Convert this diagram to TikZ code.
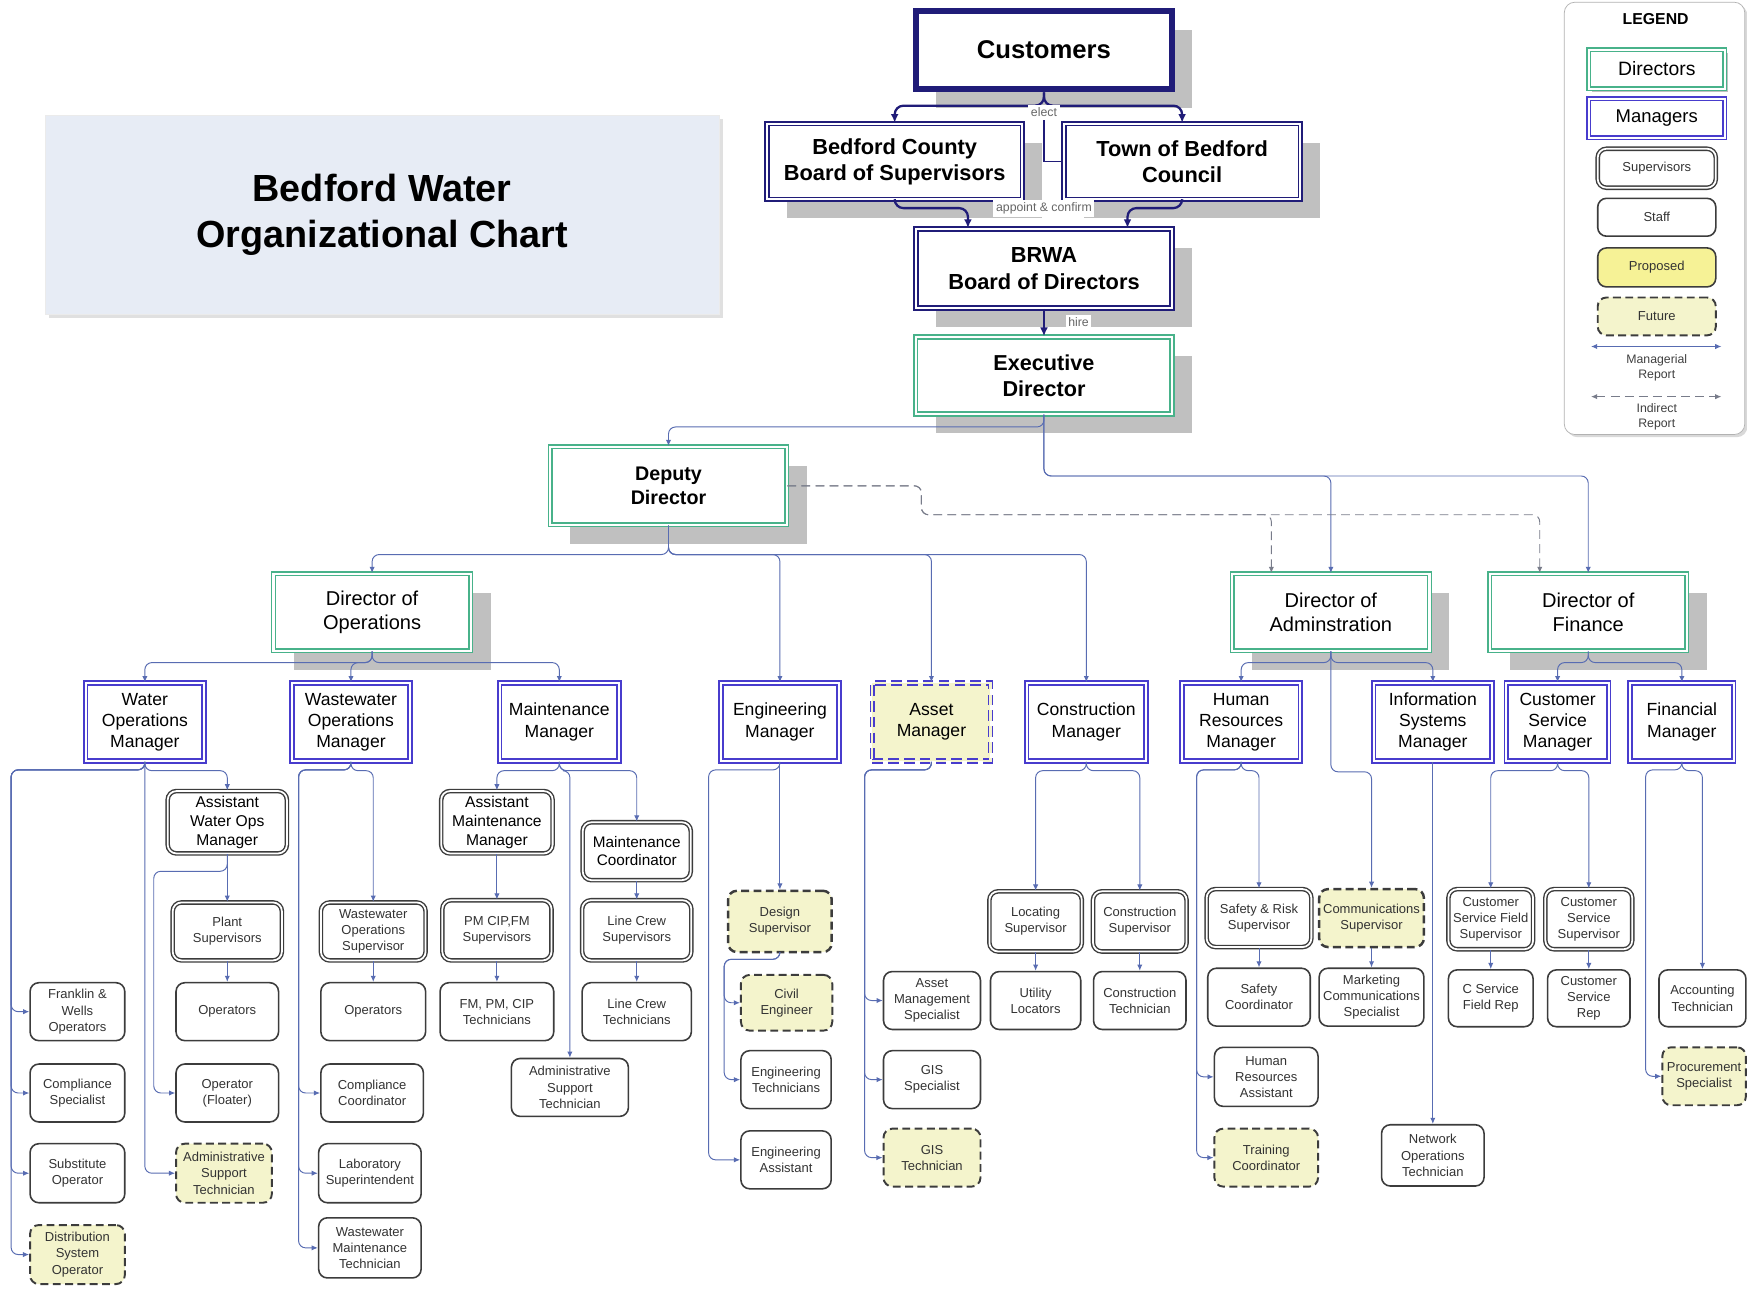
\documentclass[tikz,border=0pt]{standalone}
\usepackage{fontspec}
\setmainfont{Liberation Sans}
\usetikzlibrary{arrows.meta,calc,shadows}
\definecolor{bwnavy}{RGB}{32,28,120}
\definecolor{bwgreen}{RGB}{72,178,138}
\definecolor{bwblue}{RGB}{72,60,205}
\definecolor{bwlink}{RGB}{88,108,178}
\definecolor{bwgrey}{RGB}{60,60,60}
\definecolor{bwprop}{RGB}{246,242,150}
\definecolor{bwfut}{RGB}{244,244,204}
\definecolor{bwtitle}{RGB}{231,236,245}
\definecolor{bwshade}{RGB}{192,192,192}
\newcommand{\pxu}{0.022283cm}

\begin{document}
\begin{tikzpicture}[x=\pxu,y=-\pxu,every node/.style={align=center,inner sep=1pt},
  sz/.style 2 args={minimum width=#1*\pxu,minimum height=#2*\pxu},
  castshadow/.style={drop shadow={shadow xshift=.4cm,shadow yshift=-.38cm,fill=bwshade,opacity=1}},
  topbox/.style={draw=bwnavy,double=white,double distance=1.1pt,line width=1pt,fill=white,castshadow,font=\bfseries\fontsize{12.4}{15}\selectfont},
  dirbox/.style={draw=bwgreen,double=white,double distance=1.2pt,line width=.9pt,fill=white,castshadow,font=\fontsize{11.4}{13.5}\selectfont},
  mgrbox/.style={draw=bwblue,double=white,double distance=1.2pt,line width=.9pt,fill=white,font=\fontsize{10}{12}\selectfont},
  supbox/.style={draw=bwgrey,double=white,double distance=1pt,line width=.8pt,rounded corners=5pt,fill=white,font=\fontsize{7.4}{9.2}\selectfont,text=black!80},
  staffbox/.style={draw=bwgrey,line width=.9pt,rounded corners=5pt,fill=white,font=\fontsize{7.4}{9.2}\selectfont,text=black!80},
  futbox/.style={staffbox,fill=bwfut,dash pattern=on 4.5pt off 2.5pt,line width=1.1pt},
  lbl/.style={fill=white,font=\fontsize{7}{8}\selectfont,text=black!60,inner sep=1.5pt},
  link/.style={draw=bwlink,line width=.55pt,rounded corners=4pt,-{Latex[length=3.5pt,width=3pt]}},
  toplink/.style={draw=bwnavy,line width=1.3pt,rounded corners=5pt,-{Latex[length=5pt,width=4.5pt]}},
  indirect/.style={link,draw=gray!80!bwlink,dash pattern=on 5pt off 3pt}]
  \path[use as bounding box,fill=white] (0,0) rectangle (1568,1161);

  % title and legend
  \node[fill=bwtitle,draw=black!8,sz={605}{179},font=\bfseries\fontsize{21.5}{26}\selectfont,drop shadow={shadow xshift=2pt,shadow yshift=-2pt,fill=black!12,opacity=1}] (title) at (343,193) {Bedford Water\\Organizational Chart};
  \node[draw=black!30,rounded corners=6pt,fill=white,sz={162}{388},drop shadow={shadow xshift=1.5pt,shadow yshift=-1.5pt,fill=black!15,opacity=1}] (legend) at (1485,196) {};
  \node[font=\bfseries\fontsize{9}{11}\selectfont] (lgtitle) at (1486,17) {LEGEND};
  \node[draw=bwgreen,double=white,double distance=1.2pt,line width=.9pt,fill=white,sz={122}{35},font=\fontsize{11}{13}\selectfont,drop shadow={shadow xshift=2pt,shadow yshift=-2pt,fill=bwshade,opacity=1}] (lgdir) at (1487,62) {Directors};
  \node[mgrbox,sz={122}{35},font=\fontsize{10.5}{12}\selectfont] (lgmgr) at (1487,106) {Managers};
  \node[supbox,sz={106}{35}] (lgsup) at (1487,151) {Supervisors};
  \node[staffbox,sz={106}{34}] (lgstaff) at (1487,195) {Staff};
  \node[staffbox,fill=bwprop,sz={106}{35}] (lgprop) at (1487,240) {Proposed};
  \node[futbox,sz={106}{34}] (lgfut) at (1487,284) {Future};
  \coordinate (mra) at (1428,311);
  \coordinate (mrb) at (1545,311);
  \draw[link,{Latex[length=3.5pt,width=3pt]}-{Latex[length=3.5pt,width=3pt]}] (mra) -- (mrb);
  \node[font=\fontsize{7}{8.4}\selectfont,text=black!75] (lgmr) at (1487,330) {Managerial\\Report};
  \coordinate (ira) at (1428,356);
  \coordinate (irb) at (1545,356);
  \draw[indirect,{Latex[length=3.5pt,width=3pt]}-{Latex[length=3.5pt,width=3pt]}] (ira) -- (irb);
  \node[font=\fontsize{7}{8.4}\selectfont,text=black!75] (lgir) at (1487,374) {Indirect\\Report};

  % board and directors
  \node[draw=bwnavy,line width=3.6pt,fill=white,sz={230}{70},castshadow,font=\bfseries\fontsize{14.6}{17}\selectfont] (cust) at (937,45) {Customers};
  \node[topbox,sz={229}{68}] (county) at (803,145) {Bedford County\\Board of Supervisors};
  \node[topbox,sz={212}{68}] (town) at (1061,145) {Town of Bedford\\Council};
  \node[topbox,sz={230}{71}] (brwa) at (937,241) {BRWA\\Board of Directors};
  \node[dirbox,sz={230}{69},font=\bfseries\fontsize{12.3}{15}\selectfont] (exec) at (937,337) {Executive\\Director};
  \node[dirbox,sz={212}{70},font=\bfseries\fontsize{11.2}{13.5}\selectfont] (deputy) at (600,436) {Deputy\\Director};
  \node[dirbox,sz={177}{69}] (dirops) at (334,549.5) {Director of\\Operations};
  \node[dirbox,sz={177}{69}] (diradm) at (1194.5,549.5) {Director of\\Adminstration};
  \node[dirbox,sz={177}{69}] (dirfin) at (1425.5,549.5) {Director of\\Finance};

  % managers
  \node[mgrbox,sz={106}{70}] (wom) at (130,648) {Water\\Operations\\Manager};
  \node[mgrbox,sz={106}{70}] (wwm) at (315,648) {Wastewater\\Operations\\Manager};
  \node[mgrbox,sz={107}{70}] (mntm) at (502,648) {Maintenance\\Manager};
  \node[mgrbox,sz={106}{70}] (engm) at (700,648) {Engineering\\Manager};
  \node[mgrbox,sz={106}{70},fill=bwfut,double=bwfut,dash pattern=on 6pt off 3pt] (astm) at (836,648) {Asset\\Manager};
  \node[mgrbox,sz={107}{70}] (conm) at (975,648) {Construction\\Manager};
  \node[mgrbox,sz={106}{70}] (hrm) at (1114,648) {Human\\Resources\\Manager};
  \node[mgrbox,sz={106}{70}] (ism) at (1286,648) {Information\\Systems\\Manager};
  \node[mgrbox,sz={92}{70}] (csm) at (1398,648) {Customer\\Service\\Manager};
  \node[mgrbox,sz={93}{70}] (finm) at (1509.5,648) {Financial\\Manager};

  % supervisors
  \node[supbox,sz={107}{56},font=\fontsize{8.9}{10.7}\selectfont,text=black] (awom) at (204,738) {Assistant\\Water Ops\\Manager};
  \node[supbox,sz={100}{56},font=\fontsize{8.9}{10.7}\selectfont,text=black] (amm) at (446,738) {Assistant\\Maintenance\\Manager};
  \node[supbox,sz={97}{52},font=\fontsize{8.7}{10.5}\selectfont,text=black] (mcoord) at (571.5,764) {Maintenance\\Coordinator};
  \node[supbox,sz={98}{52}] (plsup) at (204,836) {Plant\\Supervisors};
  \node[supbox,sz={94}{52}] (wwsup) at (335,836) {Wastewater\\Operations\\Supervisor};
  \node[supbox,sz={98}{54}] (pmsup) at (446,835) {PM CIP,FM\\Supervisors};
  \node[supbox,sz={98}{54}] (lcsup) at (571.5,835) {Line Crew\\Supervisors};
  \node[futbox,sz={93}{55},line width=1.4pt] (dessup) at (700,827) {Design\\Supervisor};
  \node[supbox,sz={83}{54}] (locsup) at (929.5,827) {Locating\\Supervisor};
  \node[supbox,sz={84}{54}] (consup) at (1023,827) {Construction\\Supervisor};
  \node[supbox,sz={94}{52}] (safsup) at (1130,824) {Safety \& Risk\\Supervisor};
  \node[futbox,sz={94}{52},line width=1.4pt] (comsup) at (1231,824) {Communications\\Supervisor};
  \node[supbox,sz={76}{54}] (csfsup) at (1338,825) {Customer\\Service Field\\Supervisor};
  \node[supbox,sz={78}{54}] (cssup) at (1426,825) {Customer\\Service\\Supervisor};

  % staff
  \node[staffbox,sz={85}{52}] (fwop) at (69.5,908) {Franklin \&\\Wells\\Operators};
  \node[staffbox,sz={92}{52}] (wop) at (204,908) {Operators};
  \node[staffbox,sz={94}{52}] (wwop) at (335,908) {Operators};
  \node[staffbox,sz={102}{52}] (pmtech) at (446,908) {FM, PM, CIP\\Technicians};
  \node[staffbox,sz={98}{52}] (lctech) at (571.5,908) {Line Crew\\Technicians};
  \node[futbox,sz={82}{50}] (civeng) at (706,900) {Civil\\Engineer};
  \node[staffbox,sz={87}{52}] (amspec) at (836.5,898) {Asset\\Management\\Specialist};
  \node[staffbox,sz={81}{52}] (utloc) at (929.5,898) {Utility\\Locators};
  \node[staffbox,sz={83}{52}] (contech) at (1023,898) {Construction\\Technician};
  \node[staffbox,sz={92}{52}] (safco) at (1130,895) {Safety\\Coordinator};
  \node[staffbox,sz={94}{52}] (mktspec) at (1231,895) {Marketing\\Communications\\Specialist};
  \node[staffbox,sz={76}{51}] (csfrep) at (1338,896) {C Service\\Field Rep};
  \node[staffbox,sz={74}{51}] (csrep) at (1426,896) {Customer\\Service\\Rep};
  \node[staffbox,sz={78}{51}] (accttech) at (1528,896) {Accounting\\Technician};
  \node[staffbox,sz={85}{52}] (compspec) at (69.5,981) {Compliance\\Specialist};
  \node[staffbox,sz={92}{52}] (opfloat) at (204,981) {Operator\\(Floater)};
  \node[staffbox,sz={92}{52}] (compco) at (334,981) {Compliance\\Coordinator};
  \node[staffbox,sz={105}{52}] (mastech) at (511.5,976) {Administrative\\Support\\Technician};
  \node[staffbox,sz={81}{52}] (engtech) at (705.5,969) {Engineering\\Technicians};
  \node[staffbox,sz={87}{52}] (gisspec) at (836.5,969) {GIS\\Specialist};
  \node[staffbox,sz={93}{53}] (hrasst) at (1136.5,966.5) {Human\\Resources\\Assistant};
  \node[futbox,sz={75}{52}] (procspec) at (1529.5,966) {Procurement\\Specialist};
  \node[staffbox,sz={85}{53}] (subop) at (69.5,1053) {Substitute\\Operator};
  \node[futbox,sz={86}{53}] (wastech) at (201,1053) {Administrative\\Support\\Technician};
  \node[staffbox,sz={92}{53}] (labsup) at (332,1053) {Laboratory\\Superintendent};
  \node[staffbox,sz={81}{52}] (engasst) at (705.5,1041) {Engineering\\Assistant};
  \node[futbox,sz={87}{52}] (gistech) at (836.5,1039) {GIS\\Technician};
  \node[futbox,sz={93}{52}] (traincoord) at (1136.5,1039) {Training\\Coordinator};
  \node[staffbox,sz={92}{55}] (netop) at (1286,1037) {Network\\Operations\\Technician};
  \node[futbox,sz={85}{53}] (distop) at (69.5,1126) {Distribution\\System\\Operator};
  \node[staffbox,sz={92}{54}] (wwmtech) at (332,1120) {Wastewater\\Maintenance\\Technician};

  % top connectors
  \draw[toplink] (cust.south) -- ++(0,12) -| (county.north);
  \draw[toplink] (cust.south) -- ++(0,12) -| (town.north);
  \node[lbl] (elect) at (937,101) {elect};
  \draw[bwnavy,line width=.6pt] (elect.south) |- (town.west);
  \draw[toplink] (county.south) -- ++(0,7) -| ([xshift=-1.52cm]brwa.north);
  \draw[toplink] (town.south) -- ++(0,7) -| ([xshift=1.67cm]brwa.north);
  \node[lbl] (appoint) at (937,187) {appoint \& confirm};
  \draw[toplink] (brwa.south) -- (exec.north);
  \node[lbl] (hire) at (968,289) {hire};

  % directors
  \draw[link] (exec.south) -- ++(0,11) -| (deputy.north);
  \draw[link] (exec.south) -- ++(0,55) -| (diradm.north);
  \draw[link] (exec.south) -- ++(0,55) -| (dirfin.north);
  \coordinate (ibend) at (827,462);
  \draw[indirect] (deputy.east) -| (ibend) -| ([xshift=-1.19cm]diradm.north);
  \draw[indirect] (deputy.east) -| (ibend) -| ([xshift=-.97cm]dirfin.north);
  \draw[link] (deputy.south) -- ++(0,26) -| (dirops.north);
  \draw[link] (deputy.south) -- ++(0,26) -| (engm.north);
  \draw[link] (deputy.south) -- ++(0,26) -| (astm.north);
  \draw[link] (deputy.south) -- ++(0,26) -| (conm.north);
  \draw[link] (dirops.south) -- ++(0,10) -| (wom.north);
  \draw[link] (dirops.south) -- ++(0,10) -| (wwm.north);
  \draw[link] (dirops.south) -- ++(0,10) -| (mntm.north);
  \draw[link] (diradm.south) -- ++(0,10) -| (hrm.north);
  \draw[link] (diradm.south) -- ++(0,10) -| (ism.north);
  \draw[link] (diradm.south) -- ++(0,108) -| (comsup.north);
  \draw[link] (dirfin.south) -- ++(0,10) -| (csm.north);
  \draw[link] (dirfin.south) -- ++(0,10) -| (finm.north);

  % water operations
  \coordinate (wbus) at (10,691);
  \draw[link] (wom.south) |- (wbus) |- (fwop.west);
  \draw[link] (wom.south) |- (wbus) |- (compspec.west);
  \draw[link] (wom.south) |- (wbus) |- (subop.west);
  \draw[link] (wom.south) |- (wbus) |- (distop.west);
  \draw[link] (wom.south) -- ++(0,8) -| (awom.north);
  \draw[link] (wom.south) |- (wastech.west);
  \draw[link] (awom.south) -- (plsup.north);
  \coordinate (flbus) at (138,782);
  \draw[link] (awom.south) |- (flbus) |- (opfloat.west);
  \draw[link] (plsup.south) -- (wop.north);

  % wastewater operations
  \coordinate (wwbus) at (268,691);
  \draw[link] (wwm.south) -- ++(0,8) -| (wwsup.north);
  \draw[link] (wwm.south) |- (wwbus) |- (compco.west);
  \draw[link] (wwm.south) |- (wwbus) |- (labsup.west);
  \draw[link] (wwm.south) |- (wwbus) |- (wwmtech.west);
  \draw[link] (wwsup.south) -- (wwop.north);

  % maintenance
  \draw[link] (mntm.south) -- ++(0,8) -| (amm.north);
  \draw[link] (mntm.south) -- ++(0,8) -| (mcoord.north);
  \draw[link] (mntm.south) -- ++(0,8) -| (mastech.north);
  \draw[link] (amm.south) -- (pmsup.north);
  \draw[link] (pmsup.south) -- (pmtech.north);
  \draw[link] (mcoord.south) -- (lcsup.north);
  \draw[link] (lcsup.south) -- (lctech.north);

  % engineering and asset
  \draw[link] (engm.south) -- (dessup.north);
  \coordinate (ebus) at (636,691);
  \draw[link] (engm.south) |- (ebus) |- (engasst.west);
  \coordinate (dbus) at (650,861);
  \draw[link] (dessup.south) |- (dbus) |- (civeng.west);
  \draw[link] (dessup.south) |- (dbus) |- (engtech.west);
  \coordinate (abus) at (776,691);
  \draw[link] (astm.south) |- (abus) |- (amspec.west);
  \draw[link] (astm.south) |- (abus) |- (gisspec.west);
  \draw[link] (astm.south) |- (abus) |- (gistech.west);

  % construction
  \draw[link] (conm.south) -- ++(0,8) -| (locsup.north);
  \draw[link] (conm.south) -- ++(0,8) -| (consup.north);
  \draw[link] (locsup.south) -- (utloc.north);
  \draw[link] (consup.south) -- (contech.north);

  % administration
  \draw[link] (hrm.south) -- ++(0,8) -| (safsup.north);
  \coordinate (hbus) at (1074,691);
  \draw[link] (hrm.south) |- (hbus) |- (hrasst.west);
  \draw[link] (hrm.south) |- (hbus) |- (traincoord.west);
  \draw[link] (safsup.south) -- (safco.north);
  \draw[link] (comsup.south) -- (mktspec.north);
  \draw[link] (ism.south) -- (netop.north);

  % finance
  \draw[link] (csm.south) -- ++(0,8) -| (csfsup.north);
  \draw[link] (csm.south) -- ++(0,8) -| (cssup.north);
  \draw[link] (csfsup.south) -- (csfrep.north);
  \draw[link] (cssup.south) -- (csrep.north);
  \draw[link] (finm.south) -- ++(0,8) -| (accttech.north);
  \coordinate (fbus) at (1477,691);
  \draw[link] (finm.south) |- (fbus) |- (procspec.west);
\end{tikzpicture}
\end{document}
